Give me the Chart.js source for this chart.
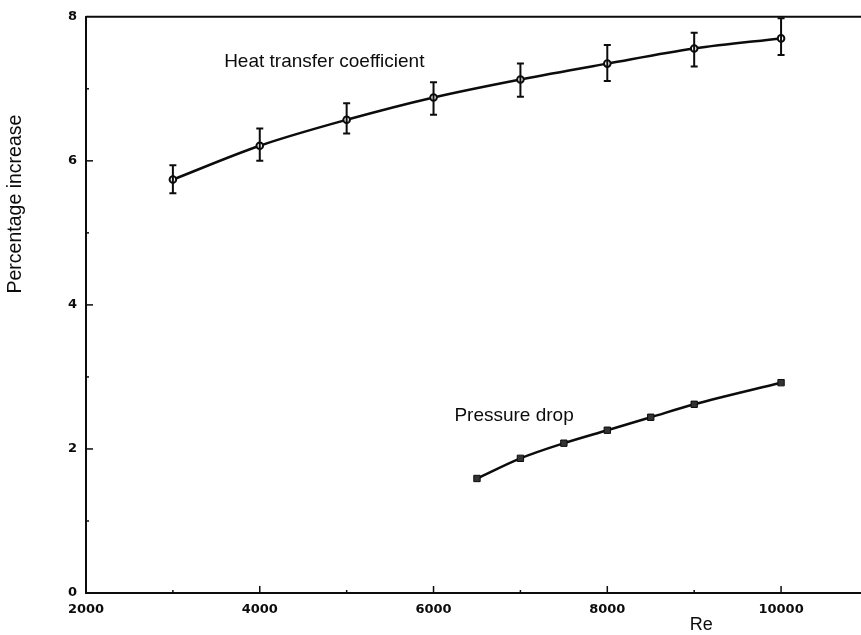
<!DOCTYPE html>
<html>
<head>
<meta charset="utf-8">
<script src="https://cdn.jsdelivr.net/npm/chart.js@4.4.1/dist/chart.umd.min.js"></script>
<style>
  body { margin: 0; background: #fff; }
  #wrap { width: 861px; height: 635px; }
</style>
</head>
<body>
<div id="wrap"><canvas id="myChart" width="861" height="635"></canvas></div>
<script>
'use strict';
// Reynolds numbers
let heatRe = [3000, 4000, 5000, 6000, 7000, 8000, 9000, 10000];
let pressRe = [6500, 7000, 7500, 8000, 8500, 9000, 10000];

// percentage increase
let heatVal = [5.74, 6.21, 6.57, 6.88, 7.13, 7.35, 7.56, 7.70];
let heatLow = [5.55, 6.00, 6.38, 6.64, 6.89, 7.11, 7.31, 7.47];
let heatHigh = [5.94, 6.45, 6.80, 7.09, 7.35, 7.61, 7.78, 7.98];
let pressVal = [1.59, 1.87, 2.08, 2.26, 2.44, 2.62, 2.92];

let xTicks = [2000, 4000, 6000, 8000, 10000];
let yTicks = [0, 2, 4, 6, 8];

let curveLabels = [
  { text: 'Heat transfer coefficient', x: 3590, y: 7.38 },
  { text: 'Pressure drop', x: 6240, y: 2.46 }
];

const ink = '#0c0c0c';
const labelFont = '"Liberation Sans", Arial, sans-serif';

function points(xs, ys) {
  let out = [];
  for (let i = 0; i < xs.length; i++) {
    out.push({ x: xs[i], y: ys[i] });
  }
  return out;
}

// error bars, inward ticks, top frame line and text annotations
const extras = {
  id: 'extras',
  afterDatasetsDraw(chart) {
    const ctx = chart.ctx;
    const xs = chart.scales.x;
    const ys = chart.scales.y;
    const area = chart.chartArea;
    ctx.save();
    ctx.strokeStyle = ink;
    ctx.lineWidth = 2;

    for (let i = 0; i < heatRe.length; i++) {
      let px = xs.getPixelForValue(heatRe[i]);
      let top = ys.getPixelForValue(heatHigh[i]);
      let bot = ys.getPixelForValue(heatLow[i]);
      ctx.beginPath();
      ctx.moveTo(px, top); ctx.lineTo(px, bot);
      ctx.moveTo(px - 3.5, top); ctx.lineTo(px + 3.5, top);
      ctx.moveTo(px - 3.5, bot); ctx.lineTo(px + 3.5, bot);
      ctx.stroke();
    }

    // top frame
    ctx.beginPath();
    ctx.moveTo(area.left, area.top);
    ctx.lineTo(area.right, area.top);
    ctx.stroke();

    // ticks pointing into the plot
    ctx.lineWidth = 1.5;
    for (let v = 3000; v <= 10000; v += 1000) {
      let px = xs.getPixelForValue(v);
      let len = v % 2000 === 0 ? 7 : 3;
      ctx.beginPath();
      ctx.moveTo(px, area.bottom); ctx.lineTo(px, area.bottom - len);
      ctx.stroke();
    }
    for (let v = 1; v <= 7; v++) {
      let py = ys.getPixelForValue(v);
      let len = v % 2 === 0 ? 7 : 3;
      ctx.beginPath();
      ctx.moveTo(area.left, py); ctx.lineTo(area.left + len, py);
      ctx.stroke();
    }

    ctx.fillStyle = ink;
    ctx.font = '19px ' + labelFont;
    ctx.textAlign = 'left';
    ctx.textBaseline = 'middle';
    curveLabels.forEach(function (lab) {
      ctx.fillText(lab.text, xs.getPixelForValue(lab.x), ys.getPixelForValue(lab.y));
    });

    // x-axis title sits off-centre, under Re = 9080
    ctx.font = '18px ' + labelFont;
    ctx.textAlign = 'center';
    ctx.fillText('Re', xs.getPixelForValue(9080), 625);

    // y-axis title, centred near y = 5.4
    ctx.translate(16, ys.getPixelForValue(5.4));
    ctx.rotate(-Math.PI / 2);
    ctx.font = '19.5px ' + labelFont;
    ctx.fillText('Percentage increase', 0, 0);
    ctx.restore();
  }
};

let ctx = document.getElementById('myChart').getContext('2d');
let myChart = new Chart(ctx, {
  type: 'line',
  data: {
    datasets: [{
      label: 'Heat transfer coefficient',
      data: points(heatRe, heatVal),
      borderColor: ink,
      borderWidth: 2.5,
      cubicInterpolationMode: 'monotone',
      pointRadius: 3.3,
      pointBorderWidth: 2,
      pointBackgroundColor: '#fff',
      pointBorderColor: ink
    }, {
      label: 'Pressure drop',
      data: points(pressRe, pressVal),
      borderColor: ink,
      borderWidth: 2.5,
      cubicInterpolationMode: 'monotone',
      pointStyle: 'rect',
      pointRadius: 4.5,
      pointBorderWidth: 1,
      pointBackgroundColor: '#333',
      pointBorderColor: ink
    }]
  },
  plugins: [extras],
  options: {
    responsive: false,
    animation: false,
    layout: { autoPadding: false, padding: { top: 15, right: 0, left: 0, bottom: 0 } },
    plugins: {
      legend: { display: false },
      tooltip: { enabled: false }
    },
    scales: {
      x: {
        type: 'linear',
        min: 2000,
        max: 10920,
        afterFit(scale) {
          scale.height = 42;
          scale.paddingRight = 0;
          scale.paddingLeft = 0;
        },
        afterBuildTicks(scale) { scale.ticks = xTicks.map(v => ({ value: v })); },
        grid: { display: false, drawTicks: false },
        border: { color: ink, width: 2 },
        ticks: {
          padding: 9,
          color: ink,
          maxRotation: 0,
          callback: v => String(v),
          font: { family: '"DejaVu Sans", sans-serif', size: 13, weight: 'bold' }
        }
      },
      y: {
        min: 0,
        max: 8,
        afterFit(scale) { scale.width = 86; },
        afterBuildTicks(scale) { scale.ticks = yTicks.map(v => ({ value: v })); },
        grid: { display: false, drawTicks: false },
        border: { color: ink, width: 2 },
        ticks: {
          padding: 9,
          color: ink,
          callback: v => String(v),
          font: { family: '"DejaVu Sans", sans-serif', size: 13, weight: 'bold' }
        }
      }
    }
  }
});
</script>
</body>
</html>
